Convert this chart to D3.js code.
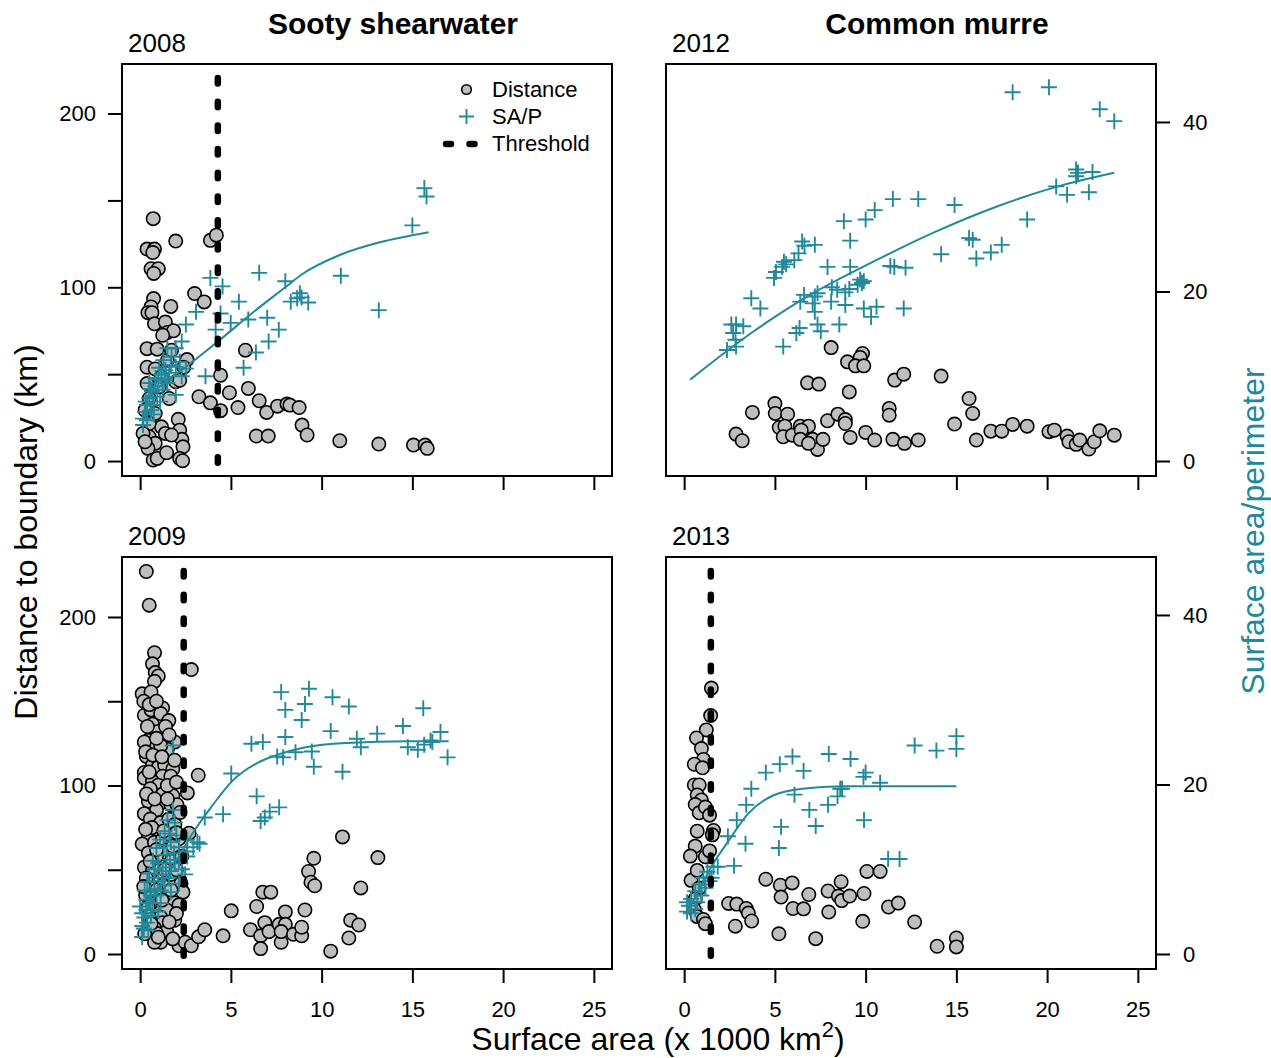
<!DOCTYPE html>
<html>
<head>
<meta charset="utf-8">
<style>
body { margin: 0; background: #ffffff; }
text { font-family: "Liberation Sans", Arial, sans-serif; fill: #000; }
</style>
<script src="https://d3js.org/d3.v7.min.js"></script>
</head>
<body>
<script>

// ---- data: [surface area (x1000 km2), value] ----
var dist2008 = [[0.72,139.5],[0.38,122],[0.79,122],[0.7,120],[1.96,126.6],[3.87,127],[4.2,130],
  [0.6,110.7],[1.0,110.7],[0.75,108],[0.74,93.5],[0.6,88.7],[0.43,85.4],[0.65,85.4],[1.69,89],[3.0,96.4],[3.53,91.6],
  [0.79,79],[1.39,80],[1.5,74],[1.84,75],[1.24,72.4],[0.38,64.7],[0.94,64.4],[0.38,54],[0.83,53],[2.58,58.4],[5.8,63.8],
  [0.38,44.6],[0.5,36],[0.27,29.3],[0.83,27.4],[1.17,19.7],[1.39,15.9],[2.1,24],[2.18,17.8],
  [0.5,14],[0.83,10.2],[2.3,12.5],[2.36,8.2],[0.43,7.3],[0.72,0.6],[0.94,1.5],[1.46,4.8],[2.18,1.5],[2.34,0.2],
  [1.6,36],[1.96,45.6],[3.24,37],[3.87,33.5],[4.43,29],[4.43,49.4],[4.92,39.3],[5.39,30.8],[5.96,41.8],[6.56,34.7],
  [6.97,28],[7.57,31.6],[8.09,32.8],[8.25,32.2],[8.76,30.8],[8.92,20.7],[9.2,15],[6.4,14.4],[7.06,14.4],[11.0,11.7],
  [13.15,9.8],[15.06,9.2],[15.7,9.2],[15.82,7.3],[1.17,48.5],[1.5,58],[1.73,63.8],[1.06,42.7],[2.18,46.5],[2.4,54],
  [0.5,21.6],[1.73,15],[0.16,15.9],[0.27,11.1]];
var sap2008 = [[15.66,32.2],[15.78,31.2],[15.0,27.8],[11.06,21.85],[13.15,17.8],[6.56,22.2],[8.0,21.2],
  [8.8,19.8],[8.9,19.3],[8.3,18.8],[9.26,18.7],[8.65,19.2],[3.87,21.6],[4.54,20.6],[5.44,18.8],[3.08,17.6],[4.43,17.4],
  [4.99,16.3],[5.96,16.7],[7.0,16.9],[7.64,15.5],[4.16,15.5],[2.52,16.1],[2.29,14.1],[1.96,13.3],[1.5,13.3],[7.08,14.1],
  [6.38,12.8],[5.7,11.0],[3.6,10.0],[2.52,10.9],[2.29,10.0],[1.96,7.8],
  [0.16,5.0],[0.27,5.8],[0.38,6.6],[0.5,7.4],[0.65,8.2],[0.83,8.8],[1.0,9.6],[1.17,10.2],[1.39,10.7],[1.69,11.3],
  [1.96,11.1],[2.18,11.7],[0.72,6.6],[0.94,7.6],[1.24,8.4],[1.5,9.2],[0.38,4.8],[0.6,6.0],[1.1,7.0],[1.6,10.4],
  [0.16,4.25],[0.5,9.2],[1.73,12.3],[1.28,11.9],[0.3,7.0],[0.55,8.5],[0.85,9.8],[1.05,11.0],[1.35,9.5],[0.75,5.5]];
var fit2008 = [[0.3,7.5],[1.2,9.0],[2.64,11.3],[4.4,14.3],[6.2,17.5],[8.0,20.5],[8.9,22.0],[11.0,24.3],[13.2,25.8],[15.9,27.0]];

var dist2012 = [[8.1,65.3],[9.83,61.9],[9.7,59.6],[9.0,57.1],[9.44,54.8],[9.9,54.8],[6.8,45.0],[7.42,44.3],[9.1,39.8],
  [11.6,46.6],[12.1,50.0],[14.16,48.9],[15.7,36],[15.9,27.4],[11.3,30.3],[11.3,26.4],[3.76,28.0],[5.0,33.1],[5.02,27.4],
  [5.7,27],[2.86,15.5],[3.2,11.7],[5.24,19.3],[5.55,20.1],[5.46,14],[5.96,14.9],[6.4,20.1],[6.85,20.1],[6.45,17.8],
  [6.4,12.5],[7.08,12.5],[7.35,6.7],[7.65,12.5],[6.85,10.2],[7.9,23.2],[8.47,27.0],[8.88,23.9],[8.88,21.6],[9.15,13.6],
  [10.0,16.5],[10.5,12.1],[11.5,12.5],[12.14,10.2],[12.9,12.1],[14.9,21.3],[16.1,12.1],[16.9,17.2],[17.5,17.2],
  [18.1,21.1],[18.9,20.1],[20.1,16.9],[20.4,17.8],[21.1,14.4],[21.2,11.1],[21.6,9.6],[21.8,12.1],[22.3,6.9],[22.6,11.1],
  [22.9,17.4],[23.7,14.9]];
var sap2012 = [[18.1,43.5],[20.1,44.1],[22.9,41.5],[23.7,40.1],[21.7,34.0],[21.6,33.6],[22.5,34.1],[21.1,31.4],[22.3,31.7],
  [20.5,32.4],[21.6,34.4],[18.9,28.5],[14.9,30.2],[12.9,30.9],[11.5,30.9],[10.5,29.6],[10.0,28.5],[8.8,28.3],[9.15,26.0],
  [6.5,25.9],[6.63,25.4],[7.2,25.5],[6.3,24.5],[6.07,23.7],[5.5,23.5],[5.4,22.9],[5.06,22.3],[4.95,21.6],[5.62,23.2],
  [7.9,22.9],[9.15,22.9],[11.36,23.0],[11.58,22.9],[12.2,22.8],[14.16,24.4],[15.7,26.3],[15.9,26.1],[16.1,23.9],
  [16.9,24.6],[17.5,25.5],[9.7,21.4],[9.8,21.0],[9.56,20.8],[9.9,21.2],[8.14,20.5],[8.43,20.2],[8.88,19.9],[9.1,20.3],
  [8.1,18.8],[8.88,18.4],[6.6,19.6],[7.2,19.4],[7.35,19.8],[6.4,18.8],[7.08,18.6],[7.2,17.6],[7.35,16.1],[7.53,15.3],
  [8.55,16.1],[6.36,15.7],[6.18,15.1],[5.46,13.5],[9.9,18.0],[10.3,17.0],[10.6,18.2],[12.1,18.0],[3.7,19.2],[4.2,18.0],
  [2.6,16.1],[2.86,16.1],[3.26,15.9],[2.7,15.1],[2.83,14.3],[2.36,13.1],[2.86,13.5]];
var fit2012 = [[0.33,9.6],[3.7,15.1],[7.1,19.8],[10.5,23.6],[13.8,27.0],[17.2,30.0],[20.6,32.4],[23.7,34.0]];

var dist2009 = [[0.34,227],[0.5,207],[0.79,178.8],[0.68,172.2],[0.83,167],[1.0,165],[0.79,161.8],[0.11,154.4],[0.6,155.5],
  [2.82,168.8],[0.23,141.7],[0.6,144.9],[1.24,146],[1.13,142.7],[1.58,138.5],[0.68,136.4],[1.0,132.1],[0.45,126.8],
  [0.79,125.8],[0.23,125.8],[1.91,125.8],[1.5,121.5],[1.13,123.6],[0.34,117.3],[0.68,112],[0.23,107.7],[1.0,110.9],
  [1.35,112],[1.8,109.8],[1.24,105.5],[1.69,105.5],[0.23,104.4],[0.68,102.3],[1.0,100.2],[0.56,98.1],[1.24,94.9],
  [1.8,93.9],[1.13,89.6],[0.45,90.7],[1.69,88.6],[2.03,88.6],[0.9,85.4],[2.6,95.6],[3.2,106.1],[0.23,83.3],[0.56,80.1],
  [1.13,78],[1.58,80.1],[1.91,76.9],[0.45,69.5],[0.11,65.3],[0.79,66.3],[1.24,68.4],[1.69,70.6],[2.14,68.4],[2.7,71.7],
  [0.23,51.5],[0.68,49.4],[0.34,45.1],[1.0,53.6],[1.69,47.2],[2.25,41.9],[2.36,36.7],[1.24,40.9],[1.91,30.3],[2.14,29.2],
  [1.46,26.1],[1.13,21.8],[1.24,18.6],[0.79,15.5],[1.46,13.3],[0.9,12.3],[1.13,7.0],[0.79,7.0],[2.14,4.9],[2.48,7.0],
  [2.82,4.9],[3.22,10.2],[3.56,14.4],[4.57,10.8],[5.02,25.6],[6.08,14.4],[6.42,28.2],[6.64,10.8],[6.64,3.2],[6.87,18.6],
  [7.1,13.3],[7.66,17.6],[8.0,25.0],[8.0,17.6],[7.77,7.0],[7.77,13.3],[8.45,11.7],[8.9,10.8],[8.9,15.9],[9.08,26.1],
  [6.76,36.7],[7.2,36.7],[9.28,49.0],[9.41,42.6],[9.62,40.5],[9.57,56.8],[11.15,69.5],[13.1,57.2],[12.16,39.2],
  [10.5,1.7],[11.5,9.5],[11.6,20.1],[12.05,17.2],[0.45,60],[0.9,58],[1.5,62],[0.3,35],[0.6,30],[1.7,55],[0.5,22],[1.9,20],
  [0.2,150],[0.5,148],[0.9,150],[1.4,135],[0.4,135],[0.9,128],[1.6,130],[0.3,120],[0.7,118],[1.2,117],[1.9,115],
  [0.5,108],[1.5,100],[2.0,102],[0.35,95],[0.8,92],[1.5,92],[2.2,84],[0.65,75],[1.3,73],[2.0,72],[0.3,74],[0.9,62],
  [1.8,64],[2.3,58],[0.55,55],[1.35,50],[2.0,50],[0.2,40],[0.9,38],[1.7,38],[0.45,28],[1.2,32],[2.0,24],[0.6,18],
  [1.6,19],[0.25,12],[1.0,10],[1.8,9]];
var sap2009 = [[7.77,30.9],[9.3,31.3],[10.6,30.3],[11.5,29.2],[15.6,29.0],[8.0,28.8],[9.08,29.5],[8.9,27.6],
  [14.48,26.9],[10.5,26.3],[13.06,26.0],[11.94,25.4],[12.16,24.4],[8.0,25.6],[6.13,24.8],[6.76,25.0],[16.55,26.2],
  [16.0,25.2],[15.65,24.7],[15.3,24.1],[14.75,24.4],[16.94,23.2],[16.1,25.0],[7.55,23.3],[7.88,23.2],[8.56,23.8],
  [9.46,23.9],[9.57,22.1],[11.15,21.5],[5.02,21.3],[6.42,18.6],[6.64,15.7],[6.87,16.1],[7.14,16.8],[7.66,17.3],
  [4.57,16.5],[3.56,16.1],[1.8,24.6],[3.15,13.2],[2.93,12.6],[2.59,12.1],[3.27,13.0],
  [0.11,2.0],[0.11,3.3],[0.23,4.3],[0.34,5.2],[0.45,6.0],[0.6,6.9],[0.79,7.7],[1.0,8.6],[1.2,9.4],[1.42,10.2],[1.64,11.1],
  [1.87,11.9],[2.14,12.6],[0,5.6],[0.11,4.8],[0.34,6.4],[0.56,7.3],[0.9,6.9],[1.13,7.5],[1.35,8.1],[1.58,9.0],[1.69,9.8],
  [1.91,10.7],[1.24,9.8],[1.0,10.7],[1.46,11.7],[1.69,13.2],[1.35,14.5],[1.91,15.5],[0.68,5.2],[0.38,3.7],[2.48,9.4],
  [2.14,8.3],[0.79,9.0],[0.56,6.0],[1.13,6.0],[1.69,7.3],[2.14,11.1],[2.59,11.5],
  [0.25,7.5],[0.5,9.5],[0.7,11.0],[0.9,12.5],[1.1,13.5],[0.4,8.5],[0.8,10],[1.3,12.8],[1.6,14.2],[1.8,17.0],
  [1.5,15.8],[0.2,3.0],[0.45,2.8],[0.6,4.5],[1.0,5.0],[2.3,10],[2.6,13.5],[2.0,14.0]];
var fit2009 = [[0.2,4.5],[1.0,7.5],[2.14,11.5],[2.82,14.0],[3.94,17.4],[5.07,20.4],[6.42,22.5],[7.55,23.5],[9.12,24.4],[11.4,24.9],[14.75,25.1],[17.0,25.1]];

var dist2013 = [[1.5,157.8],[1.46,141.5],[1.22,133],[0.68,128.2],[0.95,121.9],[1.06,115.5],[0.56,112.6],[1.01,110.5],
  [0.56,100.3],[0.83,100.3],[0.72,94.4],[0.95,91.4],[0.61,88.7],[0.83,83.8],[1.17,87.2],[1.4,82.4],[0.72,72.9],
  [1.62,73.3],[1.55,70.7],[0.61,64],[0.34,58.1],[1.17,57.7],[1.4,61.2],[0.38,43.7],[0.72,49.6],[0.83,39.1],[0.61,32.7],
  [0.56,26.4],[0.72,22.2],[1.06,20.5],[1.17,18],[4.5,44.4],[5.3,40.8],[5.95,42.2],[5.34,33.8],[6.87,35.3],[7.93,37.4],
  [8.65,42.9],[8.5,34.4],[8.68,31.7],[9.12,34.4],[9.91,35.9],[10.07,49.0],[10.8,49.0],[2.45,30.0],[2.9,29.6],[3.42,27.0],
  [3.54,24.3],[3.72,19.6],[2.82,16.5],[6.0,27.0],[6.58,26.8],[7.97,24.9],[9.84,19.4],[11.26,27.9],[11.8,30.2],[12.7,19.0],
  [5.22,12.0],[7.25,9.1],[13.94,4.6],[15.0,9.5],[15.0,4.2]];
var sap2013 = [[15.0,25.7],[15.0,24.2],[13.9,24.0],[12.7,24.6],[5.97,23.3],[5.27,22.4],[4.5,21.4],[6.58,21.6],[7.97,23.6],
  [9.17,23.0],[10.0,21.4],[9.88,20.9],[10.8,20.2],[3.7,19.5],[3.42,17.6],[2.9,15.8],[6.08,18.8],[7.93,17.6],[8.45,18.6],
  [8.6,19.5],[8.7,19.5],[6.9,17.0],[7.25,15.1],[5.34,15.0],[9.91,15.8],[2.41,13.9],[3.38,13.0],[5.22,12.5],[2.75,10.4],
  [11.24,11.2],[11.87,11.2],[0.16,5.0],[0.27,5.7],[0.38,6.5],[0.61,7.4],[0.83,8.2],[1.06,9.0],[1.28,9.7],[1.62,10.3],
  [1.85,10.3],[0.38,4.8],[0.72,6.1],[0.95,6.9],[1.17,7.8],[1.4,8.6],[0.61,5.3],[1.51,9.0],[0.16,6.1]];
var fit2013 = [[0.3,5.5],[0.9,7.8],[1.5,10.3],[2.4,13.2],[3.54,16.6],[4.9,18.7],[6.5,19.5],[8.7,19.8],[15.0,19.8]];

var thresholds = { "2008": 4.28, "2009": 2.4, "2012": null, "2013": 1.47 };
var xTicks = [0, 5, 10, 15, 20, 25];
var distTicks = [0, 50, 100, 150, 200];
var distLabels = [0, 100, 200];
var sapTicks = [0, 20, 40];

// ---- layout ----
var teal = "#21899a";
var W = 1271, H = 1058;
var colX = [122, 666], rowY = [64, 557], pw = 490, ph = 412;
var distDomains = [[-8.6, 228.5], [-8.9, 235.6]];

var panels = [
  { year: "2008", col: 0, row: 0, dist: dist2008, sap: sap2008, fit: fit2008, title: "Sooty shearwater" },
  { year: "2012", col: 1, row: 0, dist: dist2012, sap: sap2012, fit: fit2012, title: "Common murre" },
  { year: "2009", col: 0, row: 1, dist: dist2009, sap: sap2009, fit: fit2009 },
  { year: "2013", col: 1, row: 1, dist: dist2013, sap: sap2013, fit: fit2013 }
];

var svg = d3.select("body").append("svg")
  .attr("width", W).attr("height", H);

var plus = "M-8,0H8M0,-8V8";

panels.forEach(function(p) {
  var x0 = colX[p.col], y0 = rowY[p.row];
  var x = d3.scaleLinear().domain([-1, 26]).range([x0, x0 + pw]);
  var yd = d3.scaleLinear().domain(distDomains[p.row]).range([y0 + ph, y0]);
  var ys = d3.scaleLinear().domain([-1.77, 46.84]).range([y0 + ph, y0]);
  var g = svg.append("g");

  // distance circles
  g.selectAll(".dist").data(p.dist).enter().append("circle")
    .attr("cx", function(d) { return x(d[0]); })
    .attr("cy", function(d) { return yd(d[1]); })
    .attr("r", 6.7)
    .attr("fill", "#bebebe")
    .attr("stroke", "#000")
    .attr("stroke-width", 1.6);

  // SA/P pluses
  g.selectAll(".sap").data(p.sap).enter().append("path")
    .attr("d", plus)
    .attr("transform", function(d) { return "translate(" + x(d[0]) + "," + ys(d[1]) + ")"; })
    .attr("stroke", teal)
    .attr("stroke-width", 1.9)
    .attr("fill", "none");

  // fitted curve
  g.append("path")
    .datum(p.fit)
    .attr("d", d3.line().x(function(d) { return x(d[0]); }).y(function(d) { return ys(d[1]); }).curve(d3.curveMonotoneX))
    .attr("fill", "none")
    .attr("stroke", teal)
    .attr("stroke-width", 2);

  // threshold
  var t = thresholds[p.year];
  if (t !== null) {
    g.append("line")
      .attr("x1", x(t)).attr("x2", x(t))
      .attr("y1", y0).attr("y2", y0 + ph)
      .attr("stroke", "#000")
      .attr("stroke-width", 6.5)
      .attr("stroke-linecap", "round")
      .attr("stroke-dasharray", "5.5 18.2")
      .attr("stroke-dashoffset", 9.7);
  }

  // frame
  g.append("rect")
    .attr("x", x0).attr("y", y0).attr("width", pw).attr("height", ph)
    .attr("fill", "none").attr("stroke", "#000").attr("stroke-width", 2);

  // x axis (labels on bottom row only)
  var ax = g.append("g")
    .attr("transform", "translate(0," + (y0 + ph) + ")")
    .call(d3.axisBottom(x).tickValues(xTicks).tickSizeInner(14).tickSizeOuter(0).tickPadding(18)
      .tickFormat(function(d) { return p.row == 1 ? d : ""; }));
  styleAxis(ax);

  if (p.col == 0) {
    var al = g.append("g")
      .attr("transform", "translate(" + x0 + ",0)")
      .call(d3.axisLeft(yd).tickValues(distTicks).tickSizeInner(14).tickSizeOuter(0).tickPadding(12)
        .tickFormat(function(d) { return distLabels.indexOf(d) >= 0 ? d : ""; }));
    styleAxis(al);
  } else {
    var ar = g.append("g")
      .attr("transform", "translate(" + (x0 + pw) + ",0)")
      .call(d3.axisRight(ys).tickValues(sapTicks).tickSizeInner(14).tickSizeOuter(0).tickPadding(13));
    styleAxis(ar);
  }

  // year label
  svg.append("text")
    .attr("x", x0 + 6).attr("y", y0 - 12)
    .attr("font-size", 26)
    .text(p.year);

  if (p.title) {
    svg.append("text")
      .attr("x", x0 + 271).attr("y", 34)
      .attr("text-anchor", "middle")
      .attr("font-size", 30)
      .attr("font-weight", "bold")
      .text(p.title);
  }
});

function styleAxis(a) {
  a.select(".domain").remove();
  a.selectAll("line").attr("stroke", "#000").attr("stroke-width", 2);
  a.selectAll("text")
    .attr("font-size", 22)
    .attr("font-family", "'Liberation Sans', Arial, sans-serif")
    .attr("fill", "#000");
}

// legend (top left panel)
var leg = svg.append("g");
leg.append("circle").attr("cx", 466.5).attr("cy", 89.5).attr("r", 4.8)
  .attr("fill", "#bebebe").attr("stroke", "#000").attr("stroke-width", 1.6);
leg.append("path").attr("d", "M-7.5,0H7.5M0,-7.5V7.5")
  .attr("transform", "translate(466.5,116.5)")
  .attr("stroke", teal).attr("stroke-width", 1.9);
leg.append("line").attr("x1", 446).attr("x2", 475).attr("y1", 144).attr("y2", 144)
  .attr("stroke", "#000").attr("stroke-width", 6.5).attr("stroke-linecap", "round")
  .attr("stroke-dasharray", "5 18.5");
["Distance", "SA/P", "Threshold"].forEach(function(s, i) {
  leg.append("text").attr("x", 492).attr("y", 97 + i * 27.2)
    .attr("font-size", 22).text(s);
});

// axis titles
svg.append("text")
  .attr("transform", "translate(37,532) rotate(-90)")
  .attr("text-anchor", "middle")
  .attr("font-size", 32)
  .text("Distance to boundary (km)");

svg.append("text")
  .attr("transform", "translate(1264,531) rotate(-90)")
  .attr("text-anchor", "middle")
  .attr("font-size", 32)
  .style("fill", teal)
  .text("Surface area/perimeter");

var xl = svg.append("text")
  .attr("x", 658).attr("y", 1050)
  .attr("text-anchor", "middle")
  .attr("font-size", 32);
xl.append("tspan").text("Surface area (x 1000 km");
xl.append("tspan").attr("dy", -13).attr("font-size", 22).text("2");
xl.append("tspan").attr("dy", 13).text(")");

</script>
</body>
</html>
